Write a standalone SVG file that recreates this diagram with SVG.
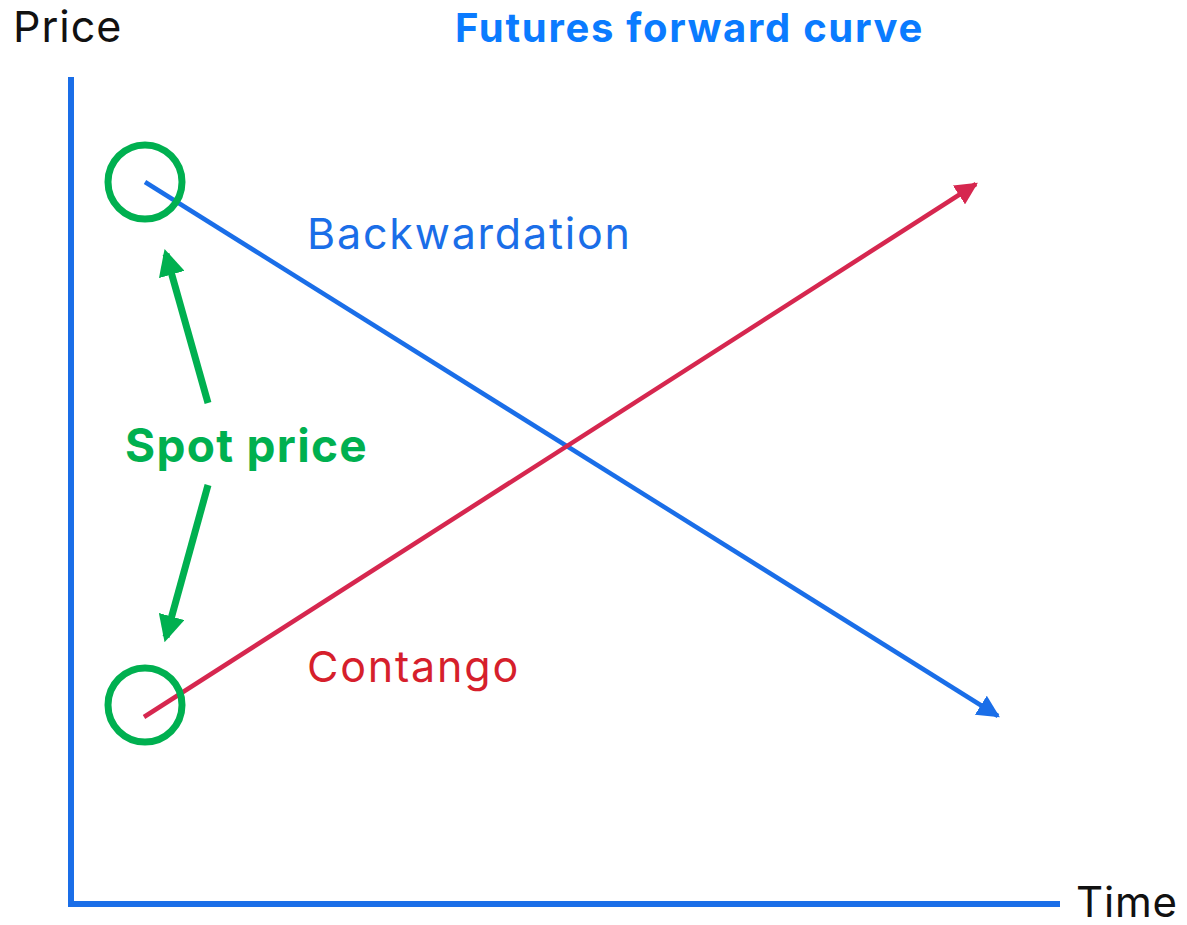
<svg xmlns="http://www.w3.org/2000/svg" width="1187" height="925" viewBox="0 0 1187 925">
  <style>
    .lbl { font-family: Inter, "Liberation Sans", sans-serif; }
    .axis { stroke: #1a6ee8; stroke-width: 6; fill: none; }
    .spot { stroke: #00b050; stroke-width: 7; fill: none; }
    .ptr { stroke: #00b050; stroke-width: 7; fill: none; }
  </style>
  <defs>
    <marker id="headBlue" viewBox="0 0 10 10" refX="9" refY="5" markerWidth="5" markerHeight="5" orient="auto" markerUnits="strokeWidth">
      <path d="M0,0 L10,5 L0,10 z" fill="#1a6ee8"/>
    </marker>
    <marker id="headRed" viewBox="0 0 10 10" refX="9" refY="5" markerWidth="5" markerHeight="5" orient="auto" markerUnits="strokeWidth">
      <path d="M0,0 L10,5 L0,10 z" fill="#d6274f"/>
    </marker>
    <marker id="headGreen" viewBox="0 0 10 10" refX="8" refY="5" markerWidth="3.8" markerHeight="3.8" orient="auto" markerUnits="strokeWidth">
      <path d="M0,0 L10,5 L0,10 z" fill="#00b050"/>
    </marker>
  </defs>

  <g id="axes">
    <path class="axis" d="M71,77 L71,904 L1060,904"/>
  </g>

  <g id="connectors">
    <line id="backwardation-line" x1="145" y1="182" x2="998" y2="716" stroke="#1a6ee8" stroke-width="4.5" marker-end="url(#headBlue)"/>
    <line id="contango-line" x1="144" y1="717" x2="976" y2="184" stroke="#d6274f" stroke-width="4.5" marker-end="url(#headRed)"/>
    <line id="spot-arrow-up" class="ptr" x1="208" y1="403" x2="166" y2="254" marker-end="url(#headGreen)"/>
    <line id="spot-arrow-down" class="ptr" x1="208" y1="485" x2="166" y2="637" marker-end="url(#headGreen)"/>
  </g>

  <g id="spot-high">
    <circle class="spot" cx="145" cy="182" r="37"/>
  </g>
  <g id="spot-low">
    <circle class="spot" cx="145" cy="705" r="37"/>
  </g>

  <g id="title">
    <text class="lbl" x="455" y="42" font-size="40" font-weight="700" fill="#0a7bff" letter-spacing="1.7">Futures forward curve</text>
  </g>
  <g id="price-label">
    <text class="lbl" x="13" y="42" font-size="43" fill="#111" letter-spacing="1">Price</text>
  </g>
  <g id="time-label">
    <text class="lbl" x="1076" y="917" font-size="42" fill="#111" letter-spacing="0.8">Time</text>
  </g>
  <g id="backwardation-label">
    <text class="lbl" x="307" y="249" font-size="43" fill="#1a6ee8" letter-spacing="1.8">Backwardation</text>
  </g>
  <g id="contango-label">
    <text class="lbl" x="307" y="682" font-size="43" fill="#d61f2c" letter-spacing="1.8">Contango</text>
  </g>
  <g id="spot-label">
    <text class="lbl" x="125" y="462" font-size="46" font-weight="700" fill="#00b050" letter-spacing="1.3">Spot price</text>
  </g>
</svg>
